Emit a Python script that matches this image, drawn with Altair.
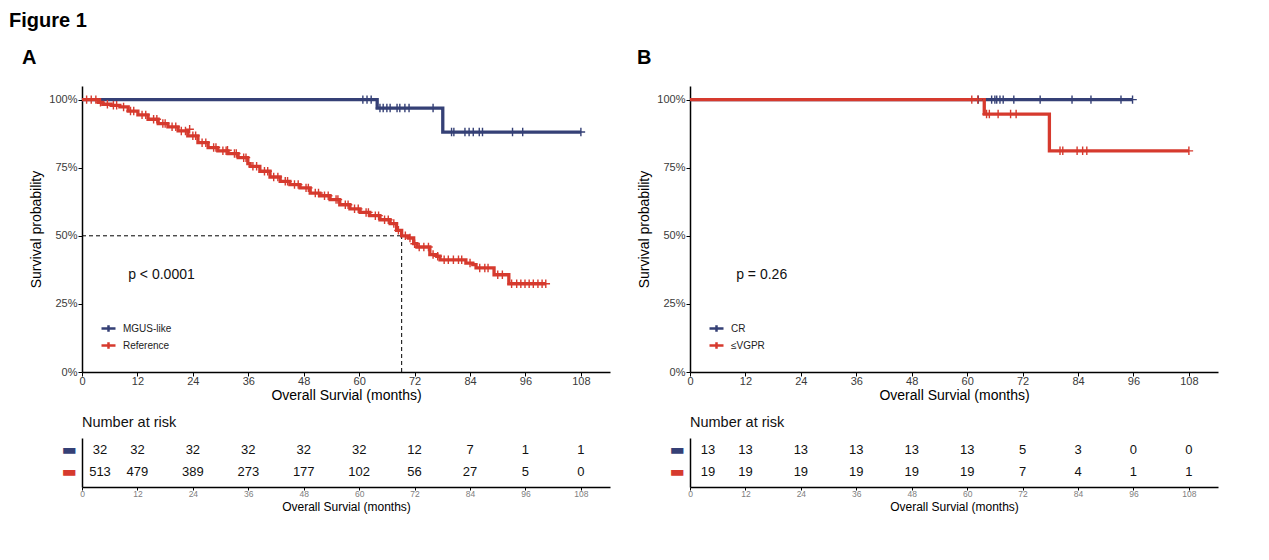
import altair as alt
import pandas as pd

BLUE = "#354076"
RED = "#D63A2E"
XMAX = 114.3
PLUS = "M0,-1V1M-1,0H1"

# ---------------- Panel A data ----------------
a_groups = ["MGUS-like", "Reference"]
a_blue_t = [0, 63.9, 78.1, 108.0]
a_blue_s = [1.0, 0.969, 0.881, 0.881]
a_red_t = [0, 3.5, 4.5, 6.3, 8.2, 10.0, 12.1, 14.3, 16.5, 18.6, 20.8, 22.9, 25.1, 27.3,
           29.4, 31.6, 33.8, 35.9, 36.4, 38.5, 40.7, 42.9, 45.0, 47.2, 49.4, 51.5, 53.7,
           55.8, 58.0, 60.2, 62.3, 64.5, 66.7, 68.1, 69.2, 70.7, 71.8, 72.5, 75.3, 76.8,
           77.5, 83.1, 84.6, 85.3, 89.2, 92.4, 100.4]
a_red_s = [1.0, 0.990, 0.983, 0.979, 0.973, 0.958, 0.944, 0.928, 0.912, 0.900, 0.885, 0.867,
           0.842, 0.824, 0.812, 0.802, 0.787, 0.765, 0.755, 0.737, 0.716, 0.700, 0.688, 0.676,
           0.657, 0.647, 0.633, 0.614, 0.599, 0.586, 0.574, 0.559, 0.545, 0.520, 0.500, 0.492,
           0.471, 0.459, 0.431, 0.425, 0.412, 0.400, 0.394, 0.382, 0.357, 0.324, 0.324]
a_blue_cens = [60.8, 61.7, 62.6, 64.5, 65.2, 66.0, 66.7, 68.2, 68.8, 69.9, 70.8, 76.0,
               80.0, 80.5, 82.9, 83.8, 84.7, 86.0, 86.7, 93.2, 95.4, 108.0]
a_red_cens = [1.0, 2.0, 3.0, 4.0, 5.5, 6.8, 7.5, 9.0, 10.5, 11.2, 13.0, 13.8, 15.5, 16.2,
              17.5, 18.0, 19.5, 20.3, 21.5, 22.4, 24.0, 24.6, 26.0, 26.8, 28.5, 29.0, 30.5,
              31.2, 33.0, 33.4, 35.0, 35.5, 37.0, 37.8, 39.5, 40.2, 41.5, 42.4, 44.0, 44.5,
              46.0, 46.8, 48.5, 49.0, 50.5, 51.2, 52.5, 53.3, 55.0, 55.4, 57.0, 57.6, 59.0,
              59.8, 61.5, 62.0, 63.5, 64.2, 65.5, 66.3, 67.5, 68.5, 70.0, 71.0, 72.0, 73.0,
              74.0, 75.0, 76.0, 77.0, 78.4, 79.3, 80.4, 81.5, 82.2, 84.0, 86.1, 87.2, 87.9,
              90.0, 91.0, 93.0, 94.1, 95.0, 95.9, 96.8, 97.7, 98.7, 99.6, 100.4]
a_red_extra_t = [23.3, 31.5]
a_red_extra_s = [0.891, 0.814]
a_median = 69.2
a_pval = "p < 0.0001"

# ---------------- Panel B data ----------------
b_groups = ["CR", "\u2264VGPR"]
b_blue_t = [0, 95.8]
b_blue_s = [1.0, 1.0]
b_red_t = [0, 63.7, 77.8, 108.0]
b_red_s = [1.0, 0.947, 0.812, 0.812]
b_blue_cens = [62.4, 65.3, 66.0, 66.4, 67.1, 67.8, 70.1, 75.8, 82.7, 86.8, 93.3, 95.8]
b_red_cens = [61.0, 62.3, 64.2, 64.8, 66.7, 69.4, 70.6, 80.1, 80.7, 83.8, 85.0, 85.9, 108.0]
b_pval = "p = 0.26"

# ---------------- Risk tables ----------------
risk_times = [0, 12, 24, 36, 48, 60, 72, 84, 96, 108]
a_risk_blue = [32, 32, 32, 32, 32, 32, 12, 7, 1, 1]
a_risk_red = [513, 479, 389, 273, 177, 102, 56, 27, 5, 0]
b_risk_blue = [13, 13, 13, 13, 13, 13, 5, 3, 0, 0]
b_risk_red = [19, 19, 19, 19, 19, 19, 7, 4, 1, 1]

PVAL_T = 10.0
PVAL_S = 0.356


def step_value(ts, ss, t):
    v = ss[0]
    for ti, si in zip(ts, ss):
        if ti <= t:
            v = si
    return v


def km_panel(letter, letter_dx, groups, curves, cens, extra, pval, median=None):
    rows = []
    for g, (ts, ss) in zip(groups, curves):
        for t, s in zip(ts, ss):
            rows.append({"group": g, "t": t, "s": s})
    df_line = pd.DataFrame(rows)
    crow = []
    for g, (ts, ss), cts in zip(groups, curves, cens):
        for t in cts:
            crow.append({"group": g, "t": t, "s": step_value(ts, ss, t)})
    if extra is not None:
        g, ets, ess = extra
        for t, s in zip(ets, ess):
            crow.append({"group": g, "t": t, "s": s})
    df_c = pd.DataFrame(crow)

    x = alt.X("t:Q", scale=alt.Scale(domain=[0, XMAX], nice=False, zero=False),
              axis=alt.Axis(values=risk_times, title="Overall Survial (months)",
                            labelFontSize=11, titleFontSize=14, tickSize=4,
                            labelPadding=-1, titlePadding=2, labelFlush=False))
    y = alt.Y("s:Q", scale=alt.Scale(domain=[0, 1.05], nice=False, zero=False),
              axis=alt.Axis(values=[0, 0.25, 0.5, 0.75, 1.0], format=".0%",
                            title="Survival probability", labelFontSize=11,
                            titleFontSize=14, tickSize=4, labelPadding=1,
                            titlePadding=5, labelFlush=False))
    cscale = alt.Scale(domain=groups, range=[BLUE, RED])

    layers = []
    if median is not None:
        df_mh = pd.DataFrame({"t": [0.0], "t2": [median], "s": [0.5]})
        df_mv = pd.DataFrame({"t": [median], "s": [0.0], "s2": [0.5]})
        layers.append(alt.Chart(df_mh).mark_rule(color="black", strokeDash=[4, 3], strokeWidth=1)
                      .encode(x=x, x2="t2:Q", y=y))
        layers.append(alt.Chart(df_mv).mark_rule(color="black", strokeDash=[4, 3], strokeWidth=1)
                      .encode(x=x, y=y, y2="s2:Q"))
    lines = alt.Chart(df_line).mark_line(interpolate="step-after", strokeWidth=3.3).encode(
        x=x, y=y,
        color=alt.Color("group:N", scale=cscale,
                        legend=alt.Legend(orient="none", legendX=18, legendY=234, title=None,
                                          direction="vertical", symbolType="M-1,0H1M0,-0.45V0.45",
                                          symbolSize=196, symbolStrokeWidth=2.5,
                                          labelFontSize=10, labelColor="#222222",
                                          rowPadding=0, padding=0, labelOffset=6)))
    pts = alt.Chart(df_c).mark_point(shape=PLUS, size=72, strokeWidth=1.4, filled=False,
                                     opacity=1).encode(
        x=x, y=y, color=alt.Color("group:N", scale=cscale, legend=None))
    ptxt = alt.Chart(pd.DataFrame({"t": [PVAL_T], "s": [PVAL_S], "label": [pval]})).mark_text(
        align="left", baseline="middle", fontSize=14, color="#111111").encode(x=x, y=y, text="label:N")
    layers += [lines, pts, ptxt]
    return alt.layer(*layers).properties(
        width=528, height=286,
        title=alt.TitleParams(letter, anchor="start", frame="group", fontSize=20,
                              fontWeight="bold", dx=letter_dx, offset=18, color="black"))


def risk_panel(blue_vals, red_vals):
    rows = []
    for t, b, r in zip(risk_times, blue_vals, red_vals):
        rows.append({"t": t, "row": 2, "n": str(b)})
        rows.append({"t": t, "row": 1, "n": str(r)})
    df = pd.DataFrame(rows)
    x = alt.X("t:Q", scale=alt.Scale(domain=[0, XMAX], nice=False, zero=False),
              axis=alt.Axis(values=risk_times, title="Overall Survial (months)",
                            labelFontSize=8.5, labelColor="#808080", titleFontSize=12,
                            tickSize=3, labelPadding=-1, titlePadding=4, labelFlush=False))
    y = alt.Y("row:Q", scale=alt.Scale(domain=[0.318, 2.545], nice=False, zero=False),
              axis=alt.Axis(values=[1, 2], labelExpr="'\u25ac'", title=None, ticks=False,
                            labelPadding=6, labelFont="DejaVu Sans", labelFontSize=16,
                            labelColor=alt.condition("datum.value == 2", alt.value(BLUE), alt.value(RED))))
    base = alt.Chart(df)
    first = base.transform_filter("datum.t == 0").mark_text(
        dx=18, fontSize=13, color="#111111", baseline="middle").encode(x=x, y=y, text="n:N")
    rest = base.transform_filter("datum.t > 0").mark_text(
        fontSize=13, color="#111111", baseline="middle").encode(x=x, y=y, text="n:N")
    return alt.layer(first, rest).properties(
        width=528, height=49,
        title=alt.TitleParams("Number at risk", anchor="start", frame="group", fontSize=14.5,
                              fontWeight="normal", offset=8, color="#111111"))


kmA = km_panel("A", -60, a_groups, [(a_blue_t, a_blue_s), (a_red_t, a_red_s)],
               [a_blue_cens, a_red_cens], ("Reference", a_red_extra_t, a_red_extra_s),
               a_pval, median=a_median)
kmB = km_panel("B", -53, b_groups, [(b_blue_t, b_blue_s), (b_red_t, b_red_s)],
               [b_blue_cens, b_red_cens], None, b_pval)
riskA = risk_panel(a_risk_blue, a_risk_red)
riskB = risk_panel(b_risk_blue, b_risk_red)

chart = alt.concat(kmA, kmB, riskA, riskB, columns=2,
                   spacing={"row": 66, "column": 80}, bounds="flush").resolve_scale(
    color="independent").resolve_legend(color="independent").properties(
    title=alt.TitleParams("Figure 1", anchor="start", frame="group", fontSize=20,
                          fontWeight="bold", dx=-73, offset=17, color="black"),
    padding={"left": 1, "top": 3, "right": 5, "bottom": 5}
).configure(font="Liberation Sans").configure_view(stroke=None).configure_axis(
    grid=False, domainColor="black", domainWidth=1.5, tickColor="black", tickWidth=1,
    labelColor="#3a3a3a", labelFont="Liberation Sans", titleFont="Liberation Sans",
    titleFontWeight="normal", titleColor="black")

chart.save("out.html", embed_options={"renderer": "svg", "actions": False})
